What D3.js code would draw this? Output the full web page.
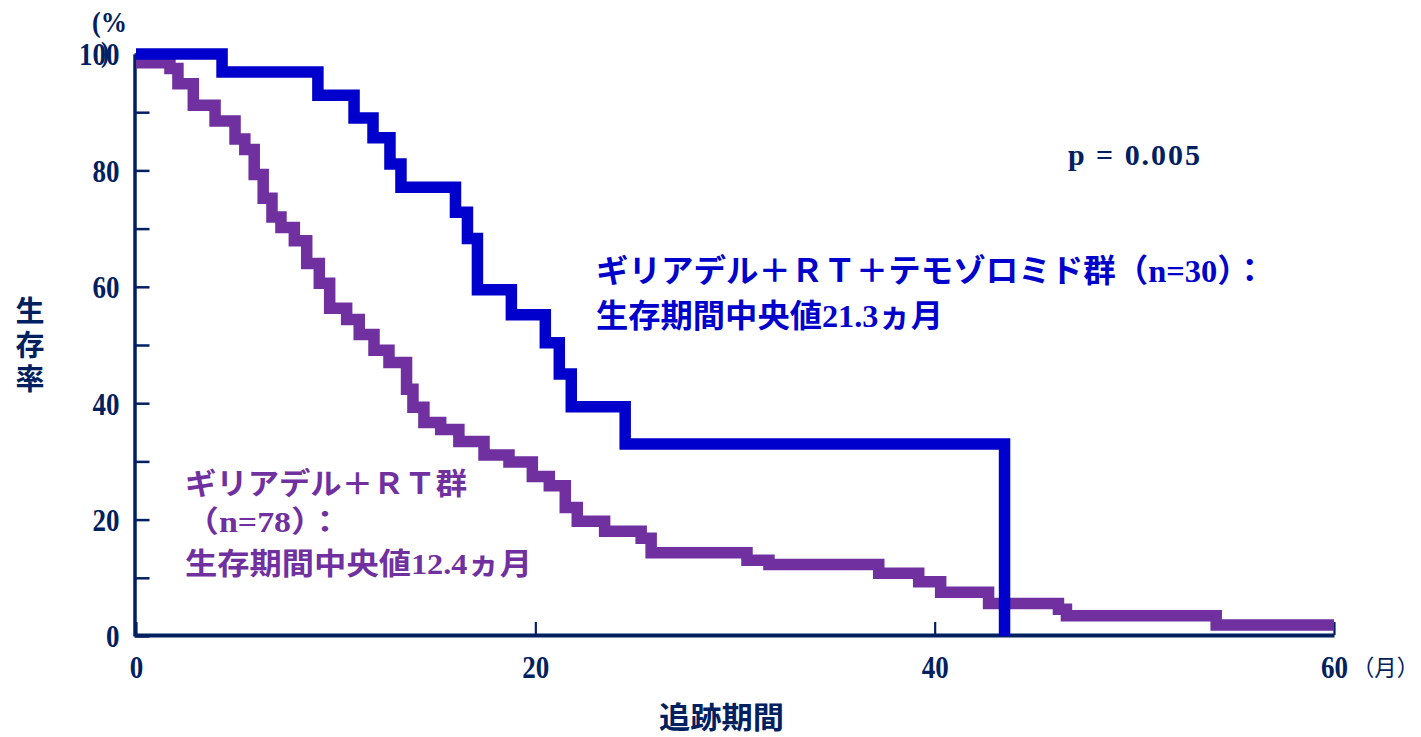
<!DOCTYPE html>
<html>
<head>
<meta charset="utf-8">
<script src="https://cdn.jsdelivr.net/npm/d3@7"></script>
<style>
    body { margin: 0; background: #fff; }
</style>
</head>
<body>
<div id="chart"></div>
<script>
"use strict";

/* =========================
   DATA
   month of each step, survival (%) after the step
   ========================= */

// ギリアデル＋ＲＴ＋テモゾロミド群 (n=30)
let comboMonths   = [0, 4.31, 9.11, 10.92, 11.87, 12.72, 13.27, 16.0, 16.6, 17.1, 18.8, 20.5, 21.2, 21.8, 24.5, 43.5];
let comboSurvival = [100, 96.9, 92.9, 89.0, 85.6, 81.1, 77.1, 72.8, 68.3, 59.5, 55.2, 50.4, 45.0, 39.4, 33.0, 0];

// ギリアデル＋ＲＴ群 (n=78)
let rtMonths = [0, 1.70, 2.10, 2.87, 3.96, 4.96, 5.45, 5.92, 6.37, 6.81, 7.26, 7.93, 8.55, 9.18, 9.70,
    10.55, 11.18, 11.92, 12.67, 13.55, 13.87, 14.42, 15.26, 16.17, 17.43, 18.68, 19.85, 20.7, 21.5, 22.1,
    23.47, 25.3, 25.8, 30.6, 31.7, 37.2, 39.2, 40.3, 42.7, 46.2, 46.6, 54.1, 60];
let rtSurvival = [98.5, 97.5, 94.9, 91.2, 88.5, 85.4, 83.6, 79.3, 75.2, 72.0, 70.2, 67.9, 64.0, 60.6, 56.3,
    54.4, 51.8, 49.1, 47.0, 42.4, 39.3, 36.7, 35.5, 33.4, 31.1, 29.9, 27.4, 25.8, 22.1, 19.7,
    18.0, 16.8, 14.3, 13.0, 12.3, 10.8, 9.3, 7.5, 5.6, 4.6, 3.5, 1.9, 1.9];

let xTickValues = [0, 20, 40, 60];
let yTickValues = [0, 10, 20, 30, 40, 50, 60, 70, 80, 90, 100];
let yTickLabels = [0, 20, 40, 60, 80, 100];

/* =========================
   CONFIG
   ========================= */

let svgWidth = 1421;
let svgHeight = 737;

let navy = "#002060";
let blue = "#0000cc";
let purple = "#7030a0";
let numFont = "'Liberation Serif', 'Times New Roman', serif";
let jpFont = "'Liberation Serif', 'Noto Sans CJK JP', sans-serif";
let gothic = "'Noto Sans CJK JP', sans-serif";

let svg = d3.select("#chart")
    .append("svg")
    .attr("width", svgWidth)
    .attr("height", svgHeight)
    .style("display", "block");

/* =========================
   SCALES
   ========================= */

let xScale = d3.scaleLinear()
    .domain([0, 60])
    .range([136, 1334]);

let yScale = d3.scaleLinear()
    .domain([0, 100])
    .range([636, 54]);

/* =========================
   AXES
   ========================= */

let yAxis = d3.axisLeft(yScale)
    .tickValues(yTickValues)
    .tickSizeInner(-15)
    .tickSizeOuter(0)
    .tickPadding(15)
    .tickFormat(d => yTickLabels.includes(d) ? d : "");

let yG = svg.append("g")
    .attr("transform", "translate(134.5,0)")
    .style("color", navy)
    .call(yAxis);

yG.select(".domain").attr("stroke-width", 3.5);
yG.selectAll(".tick line").attr("stroke-width", 2.5);
yG.selectAll(".tick text")
    .attr("font-family", numFont)
    .attr("font-weight", "bold")
    .attr("font-size", 32)
    .attr("dy", "0.34em")
    .each(function() {
        let t = d3.select(this).text();
        if (t.length) {
            d3.select(this)
                .attr("textLength", 13.5 * t.length)
                .attr("lengthAdjust", "spacingAndGlyphs");
        }
    });

let xAxis = d3.axisBottom(xScale)
    .tickValues(xTickValues)
    .tickSizeInner(-13)
    .tickSizeOuter(0)
    .tickPadding(20);

let xG = svg.append("g")
    .attr("transform", "translate(0,635)")
    .style("color", navy)
    .call(xAxis);

xG.select(".domain").attr("stroke-width", 4);
xG.selectAll(".tick line").attr("stroke-width", 2.2);
xG.selectAll(".tick text")
    .attr("font-family", numFont)
    .attr("font-weight", "bold")
    .attr("font-size", 32)
    .each(function() {
        let t = d3.select(this).text();
        d3.select(this)
            .attr("textLength", 13.5 * t.length)
            .attr("lengthAdjust", "spacingAndGlyphs");
    });

/* (% ... ) unit above the y axis; the ")" sits over the 100 as in the source */
svg.append("text")
    .attr("x", 92)
    .attr("y", 32)
    .attr("font-family", numFont)
    .attr("font-weight", "bold")
    .attr("font-size", 30)
    .attr("fill", navy)
    .attr("textLength", 35)
    .attr("lengthAdjust", "spacingAndGlyphs")
    .text("(%");

svg.append("text")
    .attr("x", 101)
    .attr("y", 62)
    .attr("font-family", numFont)
    .attr("font-weight", "bold")
    .attr("font-size", 30)
    .attr("fill", navy)
    .attr("textLength", 8)
    .attr("lengthAdjust", "spacingAndGlyphs")
    .text(")");

/* month unit at the end of the x axis */
svg.append("text")
    .attr("x", 1352)
    .attr("y", 676)
    .attr("font-family", gothic)
    .attr("font-size", 22.5)
    .attr("fill", navy)
    .attr("textLength", 67)
    .attr("lengthAdjust", "spacingAndGlyphs")
    .text("（月）");

/* axis titles */
svg.append("text")
    .attr("x", 659)
    .attr("y", 728)
    .attr("font-family", gothic)
    .attr("font-weight", "bold")
    .attr("font-size", 30)
    .attr("fill", navy)
    .attr("textLength", 125)
    .attr("lengthAdjust", "spacingAndGlyphs")
    .text("追跡期間");

svg.append("text")
    .attr("x", 30)
    .attr("y", 296)
    .attr("font-family", gothic)
    .attr("font-weight", "bold")
    .attr("font-size", 29)
    .attr("fill", navy)
    .style("writing-mode", "vertical-rl")
    .style("letter-spacing", "5px")
    .text("生存率");

/* =========================
   SURVIVAL CURVES
   ========================= */

let stepLine = d3.line()
    .x(d => xScale(d[0]))
    .y(d => yScale(d[1]))
    .curve(d3.curveStepAfter);

let rtPoints = rtMonths.map((m, i) => [m, rtSurvival[i]]);
let comboPoints = comboMonths.map((m, i) => [m, comboSurvival[i]]);

svg.append("path")
    .attr("d", stepLine(rtPoints))
    .attr("fill", "none")
    .attr("stroke", purple)
    .attr("stroke-width", 11.5)
    .attr("stroke-linejoin", "miter");

svg.append("path")
    .attr("d", stepLine(comboPoints))
    .attr("fill", "none")
    .attr("stroke", blue)
    .attr("stroke-width", 11.5)
    .attr("stroke-linejoin", "miter");

/* =========================
   ANNOTATIONS
   ========================= */

svg.append("text")
    .attr("x", 1068)
    .attr("y", 165)
    .attr("font-family", numFont)
    .attr("font-weight", "bold")
    .attr("font-size", 30)
    .attr("fill", navy)
    .attr("textLength", 132)
    .attr("lengthAdjust", "spacing")
    .text("p = 0.005");

let comboLabel = [
    {text: "ギリアデル＋ＲＴ＋テモゾロミド群（n=30）：", y: 282, len: 670},
    {text: "生存期間中央値21.3ヵ月", y: 327, len: 347}
];

comboLabel.forEach(function(line) {
    svg.append("text")
        .attr("x", 596)
        .attr("y", line.y)
        .attr("font-family", jpFont)
        .attr("font-weight", "bold")
        .attr("font-size", 32)
        .attr("fill", blue)
        .attr("textLength", line.len)
        .attr("lengthAdjust", "spacingAndGlyphs")
        .text(line.text);
});

let rtLabel = [
    {text: "ギリアデル＋ＲＴ群", y: 494, len: 282},
    {text: "（n=78）：", y: 532, len: 157},
    {text: "生存期間中央値12.4ヵ月", y: 574, len: 347}
];

rtLabel.forEach(function(line) {
    svg.append("text")
        .attr("x", 185)
        .attr("y", line.y)
        .attr("font-family", jpFont)
        .attr("font-weight", "bold")
        .attr("font-size", 30)
        .attr("fill", purple)
        .attr("textLength", line.len)
        .attr("lengthAdjust", "spacingAndGlyphs")
        .text(line.text);
});
</script>
</body>
</html>
